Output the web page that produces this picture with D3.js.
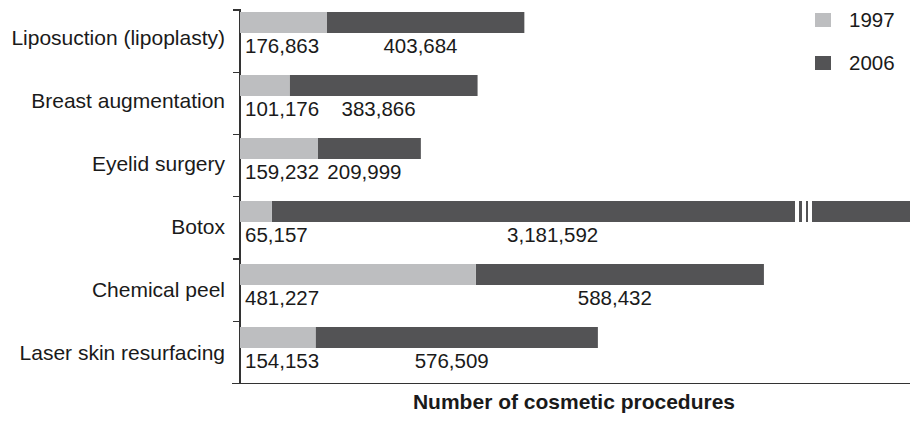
<!DOCTYPE html>
<html lang="en">
<head>
<meta charset="utf-8">
<title>Number of cosmetic procedures, 1997 vs 2006</title>
<script src="https://cdn.jsdelivr.net/npm/d3@7"></script>
<style>
  body { margin: 0; background: #fff; }
  text { font-family: "Liberation Sans", Arial, Helvetica, sans-serif; fill: #1a1a1a; }
  .axis path, .axis line { stroke: #333; stroke-width: 1.4; shape-rendering: crispEdges; }
</style>
</head>
<body>
<script>
// data
var categories = ["Liposuction (lipoplasty)", "Breast augmentation", "Eyelid surgery",
                  "Botox", "Chemical peel", "Laser skin resurfacing"];
var values1997 = [176863, 101176, 159232, 65157, 481227, 154153];
var values2006 = [403684, 383866, 209999, 3181592, 588432, 576509];
var years = ["1997", "2006"];
var colors = ["#bdbec0", "#535355"];

var w = 910, h = 425;
var svg = d3.select("body").append("svg").attr("width", w).attr("height", h);

var fmt = d3.format(",");

// scales
var x = d3.scaleLinear().domain([0, 1372000]).range([240, 912]);
var y = d3.scaleBand().domain(categories).range([12, 390]).paddingInner(0).paddingOuter(0);
var barH = 21;
var xMax = 910;

// axis (ticks between categories)
var tickScale = d3.scaleLinear().domain([0, categories.length]).range([9.5, 383]);
svg.append("g")
  .attr("class", "axis")
  .attr("transform", "translate(239.5,0)")
  .call(d3.axisLeft(tickScale).ticks(categories.length).tickSize(7).tickFormat(""));
svg.append("line")
  .attr("x1", 232).attr("x2", 910)
  .attr("y1", 383.5).attr("y2", 383.5)
  .attr("stroke", "#333").attr("stroke-width", 1.2);

var rows = svg.selectAll("g.row")
  .data(categories)
  .enter().append("g")
  .attr("class", "row")
  .attr("transform", function(d) { return "translate(0," + y(d) + ")"; });

// 2006 segment stacked after the 1997 segment
rows.append("rect")
  .attr("x", function(d, i) { return x(values1997[i]); })
  .attr("y", 0)
  .attr("height", barH)
  .attr("width", function(d, i) {
    var end = Math.min(x(values1997[i] + values2006[i]), xMax);
    return end - x(values1997[i]);
  })
  .attr("fill", colors[1]);

rows.append("rect")
  .attr("x", x(0))
  .attr("y", 0)
  .attr("height", barH)
  .attr("width", function(d, i) { return x(values1997[i]) - x(0); })
  .attr("fill", colors[0]);

// break marks on the Botox bar
var bi = categories.indexOf("Botox");
[[795, 4], [802, 4], [808, 4]].forEach(function(g) {
  svg.append("rect")
    .attr("x", g[0]).attr("y", y(categories[bi]) - 1)
    .attr("width", g[1]).attr("height", barH + 2)
    .attr("fill", "#fff");
});

// category labels
rows.append("text")
  .attr("x", 225)
  .attr("y", 33)
  .attr("text-anchor", "end")
  .style("font-size", "21px")
  .text(function(d) { return d; });

// value labels
rows.append("text")
  .attr("x", 245)
  .attr("y", barH + 20)
  .style("font-size", "20.5px")
  .text(function(d, i) { return fmt(values1997[i]); });

rows.append("text")
  .attr("x", function(d, i) {
    var a = x(values1997[i]);
    var b = Math.min(x(values1997[i] + values2006[i]), xMax);
    if (b >= xMax) return a + (b - a) * 0.44;   // broken bar
    return (a + b) / 2 - 5;
  })
  .attr("y", barH + 20)
  .attr("text-anchor", "middle")
  .style("font-size", "20.5px")
  .text(function(d, i) { return fmt(values2006[i]); });

// legend
var legend = svg.selectAll("g.legend")
  .data(years)
  .enter().append("g")
  .attr("class", "legend")
  .attr("transform", function(d, i) { return "translate(815," + (13 + i * 43) + ")"; });
legend.append("rect")
  .attr("width", 16).attr("height", 14)
  .attr("fill", function(d, i) { return colors[i]; });
legend.append("text")
  .attr("x", 34).attr("y", 14)
  .style("font-size", "20.5px")
  .text(function(d) { return d; });

// x axis title
svg.append("text")
  .attr("x", 574)
  .attr("y", 409)
  .attr("text-anchor", "middle")
  .style("font-size", "21px")
  .style("font-weight", "bold")
  .text("Number of cosmetic procedures");
</script>
</body>
</html>
